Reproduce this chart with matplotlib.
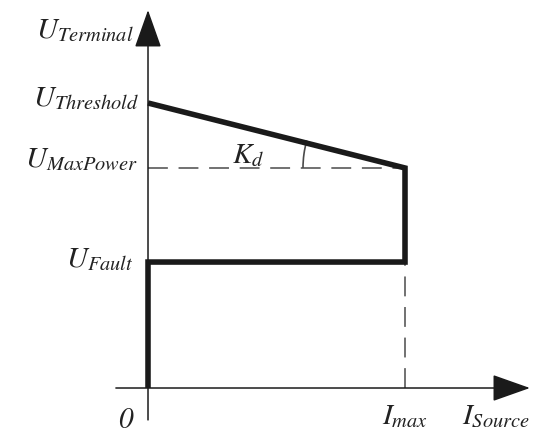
import numpy as np
import matplotlib
matplotlib.use('Agg')
import matplotlib.pyplot as plt
from matplotlib.patches import Arc

plt.rcParams['mathtext.fontset'] = 'stix'
plt.rcParams['font.family'] = 'STIXGeneral'

# characteristic values (normalised)
I_MAX       = 1.0
U_THRESHOLD = 1.0
U_MAXPOWER  = 0.772
U_FAULT     = 0.442

# thick characteristic path
curve_i = [0.0, 0.0, I_MAX, I_MAX, 0.0]
curve_u = [0.0, U_FAULT, U_FAULT, U_MAXPOWER, U_THRESHOLD]

# axis extents (beyond the data)
X_AXIS = (-0.125, 1.486)
Y_AXIS = (-0.112, 1.326)

INK  = '#1a1a1a'
DASH = '#4a4a4a'
FS   = 21

fig = plt.figure(figsize=(5.39, 4.37), dpi=100)
ax = fig.add_axes([0, 0, 1, 1])
ax.set_xlim(-0.5759, 1.5214)
ax.set_ylim(-0.1719, 1.3614)
ax.axis('off')

# axes with arrow heads
arrow = dict(arrowstyle='-|>,head_length=2.4,head_width=0.85', lw=1.1,
             color=INK, mutation_scale=10, shrinkA=0, shrinkB=0)
ax.annotate('', xy=(0, Y_AXIS[1]), xytext=(0, Y_AXIS[0]), arrowprops=arrow)
ax.annotate('', xy=(X_AXIS[1], 0), xytext=(X_AXIS[0], 0), arrowprops=arrow)

# dashed guides
ax.plot([0, I_MAX], [U_MAXPOWER, U_MAXPOWER], color=DASH, lw=1.1,
        dashes=(13, 7))
ax.plot([I_MAX, I_MAX], [0, U_FAULT], color=DASH, lw=1.1, dashes=(13, 7))

# characteristic
ax.plot(curve_i, curve_u, color=INK, lw=4.0, solid_joinstyle='miter',
        solid_capstyle='butt')

# slope angle arc K_d
p0 = ax.transData.transform((I_MAX, U_MAXPOWER))
p1 = ax.transData.transform((0, U_THRESHOLD))
ang = np.degrees(np.arctan2(p1[1] - p0[1], p0[0] - p1[0]))
r = 102
w = r / (p0[0] - ax.transData.transform((0, 0))[0]) * I_MAX * 2
h = r / (ax.transData.transform((0, 1))[1] - ax.transData.transform((0, 0))[1]) * 2
ax.add_patch(Arc((I_MAX, U_MAXPOWER), w, h, theta1=180 - ang, theta2=180,
                 color=DASH, lw=1.2))

def label(txt, xy, off, ha):
    ax.annotate(txt, xy=xy, xytext=off, textcoords='offset pixels',
                ha=ha, va='baseline', fontsize=FS, color='#222222')

label(r'$U_{Terminal}$',  (0, Y_AXIS[1]), (-14, -28), 'right')
label(r'$U_{Threshold}$', (0, U_THRESHOLD), (-9, -3), 'right')
label(r'$U_{MaxPower}$',  (0, U_MAXPOWER), (-10, 1), 'right')
label(r'$U_{Fault}$',     (0, U_FAULT), (-14, -5), 'right')
label(r'$I_{max}$',       (I_MAX, 0), (0, -36), 'center')
label(r'$I_{Source}$',    (X_AXIS[1], 0), (-68, -36), 'left')
label(r'$K_d$',           (0, U_MAXPOWER), (84, 5), 'left')
ax.annotate('0', xy=(0, 0), xytext=(-15, -40), textcoords='offset pixels',
            ha='right', va='baseline', fontsize=FS, style='italic',
            color='#222222')

fig.savefig('out.png', dpi=100)
